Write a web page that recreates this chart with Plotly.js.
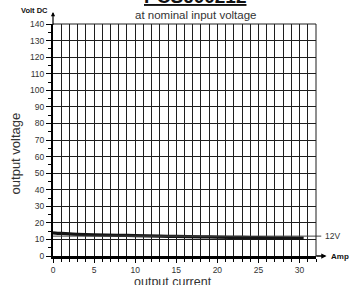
<!DOCTYPE html>
<html><head><meta charset="utf-8">
<script src="https://cdn.plot.ly/plotly-3.0.1.min.js"></script>
<style>body{margin:0;padding:0;background:#fff}#chart{width:352px;height:285px}</style>
</head><body><div id="chart"></div>
<script>
// Data
const currentA = [0, 1, 2, 3, 5, 8, 10, 13, 15, 18, 20, 23, 25, 28, 30.5];
const voltageV = [14.0, 13.6, 13.3, 13.1, 12.8, 12.5, 12.3, 12.0, 11.8, 11.6, 11.4, 11.2, 11.1, 10.9, 10.8];
const nominalV = 12;
const modelName = "PCS600212";
const subtitle = "at nominal input voltage";
const xLabel = "output current";
const yLabel = "output voltage";
const xUnit = "Amp";
const yUnit = "Volt DC";
const xMax = 32, yMax = 140;

const font = "Liberation Sans, Arial, sans-serif";
const grid = "#1e1e1e";

const traces = [{
  x: currentA, y: voltageV, type: "scatter", mode: "lines",
  line: {color: "#151515", width: 3.2, shape: "spline"},
  hoverinfo: "skip", showlegend: false, cliponaxis: false
}];

const layout = {
  width: 352, height: 285,
  margin: {l: 53, r: 36, t: 24, b: 29},
  paper_bgcolor: "#fff", plot_bgcolor: "#fff",
  font: {family: font, size: 8.5, color: "#222"},
  showlegend: false,
  xaxis: {
    range: [0, xMax], dtick: 5, tick0: 0, showgrid: true, gridcolor: grid, gridwidth: 1,
    zeroline: false, showline: true, linecolor: "#000", linewidth: 3,
    ticks: "outside", ticklen: 4, tickcolor: "#000", tickwidth: 1,
    tickfont: {size: 8.5, color: "#333"},
    minor: {dtick: 1, showgrid: true, gridcolor: grid, gridwidth: 1, ticks: "outside", ticklen: 3, tickcolor: "#000"},
    fixedrange: true
  },
  yaxis: {
    range: [0, yMax], dtick: 10, tick0: 0, showgrid: true, gridcolor: grid, gridwidth: 1,
    zeroline: false, showline: true, linecolor: "#000", linewidth: 2,
    ticks: "outside", ticklen: 5, tickcolor: "#000", tickwidth: 1,
    tickfont: {size: 8.5, color: "#333"},
    minor: {dtick: 5, ticks: "outside", ticklen: 3, tickcolor: "#000"},
    fixedrange: true
  },
  shapes: [
    {type: "line", xref: "x", yref: "y", x0: 0, x1: xMax, y0: nominalV, y1: nominalV, line: {color: "#444", width: 1}},
    {type: "line", xref: "paper", yref: "y", x0: 1, x1: 1.02, y0: nominalV, y1: nominalV, line: {color: "#444", width: 1}},
    {type: "line", xref: "paper", yref: "paper", x0: 1, x1: 1, y0: 0, y1: 1, line: {color: grid, width: 1}},
    {type: "line", xref: "paper", yref: "paper", x0: 0, x1: 1, y0: 1, y1: 1, line: {color: grid, width: 1}}
  ],
  annotations: [
    {xref: "paper", yref: "paper", x: 1.04, y: 0, ax: 0.995, ay: 0, axref: "paper", ayref: "paper",
     text: "", showarrow: true, arrowhead: 2, arrowsize: 0.7, arrowwidth: 1.5, arrowcolor: "#000"},
    {xref: "paper", yref: "paper", x: 0, y: 1.052, ax: 0, ay: 0.99, axref: "paper", ayref: "paper",
     text: "", showarrow: true, arrowhead: 2, arrowsize: 0.7, arrowwidth: 1.2, arrowcolor: "#000"},
    {xref: "paper", yref: "paper", x: 1.048, y: 0, xanchor: "left", yanchor: "middle", showarrow: false,
     text: "<b>" + xUnit + "</b>", font: {family: font, size: 8, color: "#111"}},
    {xref: "paper", yref: "y", x: 1.025, y: nominalV, xanchor: "left", yanchor: "middle", showarrow: false,
     text: nominalV + "V", font: {family: font, size: 8.5, color: "#333"}},
    {xref: "paper", yref: "paper", x: -0.01, y: 1.03, xanchor: "right", yanchor: "bottom", showarrow: false,
     text: "<b>" + yUnit + "</b>", font: {family: font, size: 7.5, color: "#111"}},
    {xref: "paper", yref: "paper", x: 0.54, y: 1, yshift: 1, xanchor: "center", yanchor: "bottom", showarrow: false,
     text: subtitle, font: {family: font, size: 11.5, color: "#333"}},
    {xref: "paper", yref: "paper", x: 0.54, y: 1, yshift: 15, xanchor: "center", yanchor: "bottom", showarrow: false,
     text: "<b><u>" + modelName + "</u></b>", font: {family: font, size: 19, color: "#111"}},
    {xref: "paper", yref: "paper", x: 0.455, y: 0, yshift: -17, xanchor: "center", yanchor: "top", showarrow: false,
     text: xLabel, font: {family: font, size: 12.5, color: "#333"}},
    {xref: "paper", yref: "paper", x: 0, xshift: -47, y: 0.44, xanchor: "left", yanchor: "middle", showarrow: false,
     textangle: -90, text: yLabel, font: {family: font, size: 13, color: "#333"}}
  ]
};

Plotly.newPlot("chart", traces, layout, {displayModeBar: false, staticPlot: true});
</script></body></html>
